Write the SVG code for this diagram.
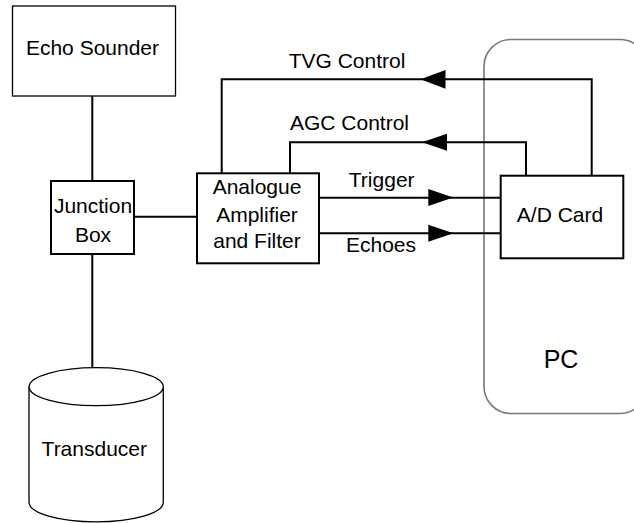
<svg xmlns="http://www.w3.org/2000/svg" width="634" height="523" viewBox="0 0 634 523">
<style>
text{font-family:"Liberation Sans",Arial,sans-serif;font-size:21px;fill:#000;text-anchor:middle}
.thin{fill:#fff;stroke:#000;stroke-width:1.3}
.box{fill:#fff;stroke:#000;stroke-width:2}
.pc{fill:none;stroke:#777;stroke-width:1.6}
.wire{fill:none;stroke:#000;stroke-width:2}
</style>
<defs>
<polygon id="ah" points="0,-8.5 25,0 0,8.5" fill="#000"/>
</defs>
<rect width="634" height="523" fill="#fff"/>
<g id="pc">
<rect class="pc" x="484" y="39.5" width="163" height="374" rx="27" ry="27"/>
<text x="561" y="367.7" style="font-size:25px">PC</text>
</g>
<g id="connectors">
<path class="wire" d="M92.3,96 V181"/>
<path class="wire" d="M92.3,254 V368"/>
<path class="wire" d="M134,216.7 H197"/>
<path class="wire" d="M221.7,173 V79.3 H591.7 V175.7"/>
<path class="wire" d="M290,173 V142.3 H526 V175.7"/>
<path class="wire" d="M319,197.7 H500.7"/>
<path class="wire" d="M319,233.3 H500.7"/>
<use href="#ah" transform="translate(445.5,79.3) rotate(180) scale(1,1.1)"/>
<use href="#ah" transform="translate(447,142.3) rotate(180)"/>
<use href="#ah" transform="translate(428.3,197.5)"/>
<use href="#ah" transform="translate(428.3,233.3)"/>
<text x="347" y="68.3">TVG Control</text>
<text x="349.5" y="130">AGC Control</text>
<text x="381.7" y="186.7">Trigger</text>
<text x="381" y="251.7">Echoes</text>
</g>
<g id="echo-sounder">
<rect class="thin" x="12.5" y="6" width="163" height="90"/>
<text x="92.5" y="55">Echo Sounder</text>
</g>
<g id="junction-box">
<rect class="box" x="51" y="181" width="83" height="73"/>
<text x="93" y="213">Junction</text>
<text x="93" y="242">Box</text>
</g>
<g id="amplifier">
<rect class="box" x="197" y="173.3" width="122" height="90"/>
<text x="257" y="194.3">Analogue</text>
<text x="257" y="221.7">Amplifier</text>
<text x="257" y="248.3">and Filter</text>
</g>
<g id="ad-card">
<rect class="box" x="500.7" y="175.7" width="122.6" height="82.6"/>
<text x="560" y="221.7">A/D Card</text>
</g>
<g id="transducer">
<path class="thin" d="M29,386.7 V502.3 A67,19.5 0 0 0 163.3,502.3 V386.7"/>
<ellipse class="thin" cx="96.2" cy="386.7" rx="67.1" ry="19"/>
<text x="94.3" y="456">Transducer</text>
</g>
</svg>
